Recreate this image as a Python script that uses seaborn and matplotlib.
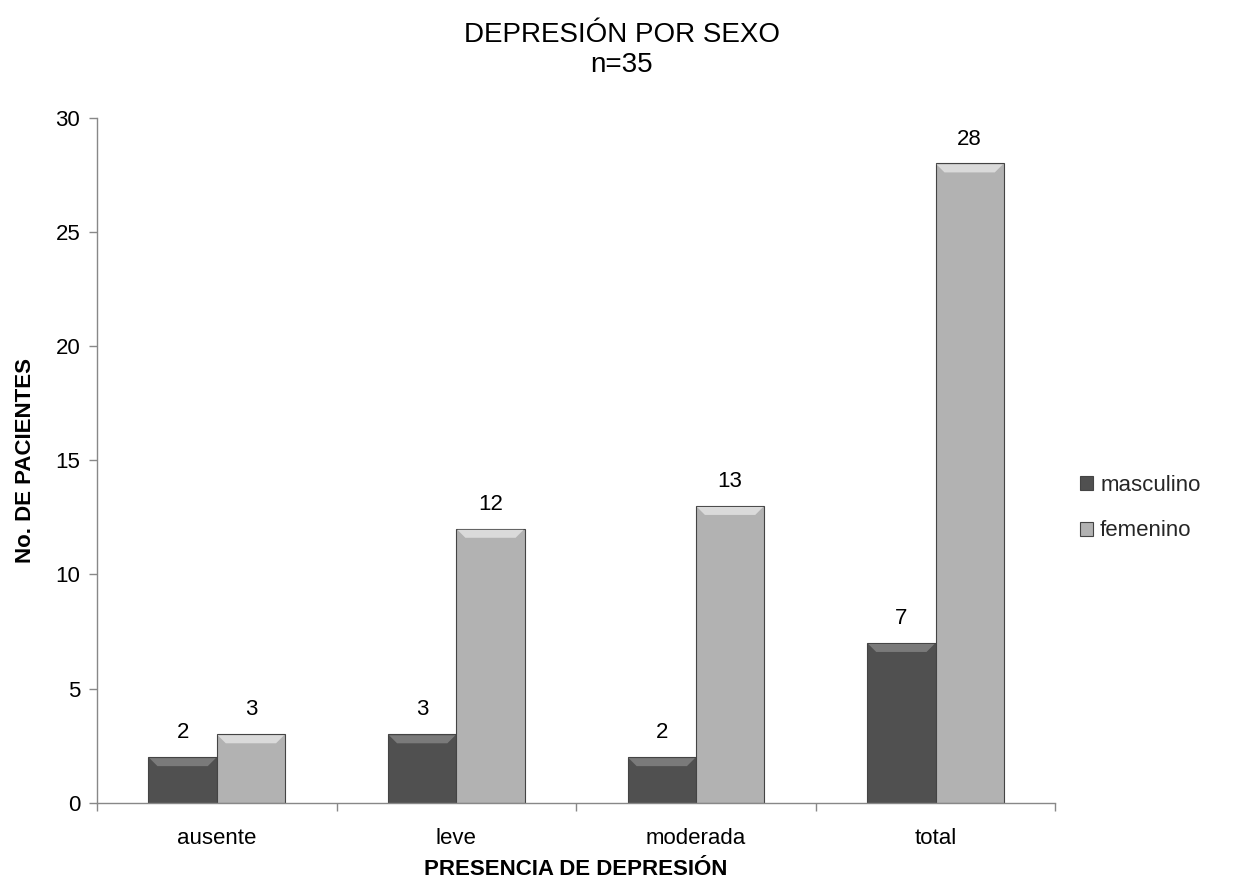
import pandas as pd
import matplotlib.pyplot as plt
import seaborn as sns
from matplotlib.patches import Polygon

categorias = ['ausente', 'leve', 'moderada', 'total']
masculino = [2, 3, 2, 7]
femenino = [3, 12, 13, 28]
series = ['masculino', 'femenino']
colores = ['#505050', '#b2b2b2']
bisel = ['#7a7a7a', '#dadada']

df = pd.DataFrame({
    'categoria': categorias * 2,
    'sexo': ['masculino'] * 4 + ['femenino'] * 4,
    'pacientes': masculino + femenino,
})

sns.set_style('white')
plt.rcParams['font.family'] = ['Liberation Sans', 'DejaVu Sans']

fig = plt.figure(figsize=(12.43, 8.92), dpi=100)
ax = fig.add_axes([0.078, 0.1, 0.771, 0.768])

sns.barplot(data=df, x='categoria', y='pacientes', hue='sexo', hue_order=series,
            palette=colores, width=0.57, edgecolor='#444444', linewidth=0.8,
            saturation=1, ax=ax)

ax.set_ylim(0, 30)
ax.set_xlim(-0.5, 3.5)

# bisel superior de cada barra (efecto tipo Excel)
fig.canvas.draw()
to_px = ax.transData
to_data = ax.transData.inverted()
for cont, bc in zip(ax.containers, bisel):
    for p in cont.patches:
        x0, y0 = to_px.transform((p.get_x(), p.get_y()))
        x1, y1 = to_px.transform((p.get_x() + p.get_width(), p.get_y() + p.get_height()))
        d = min(9, (y1 - y0) / 2)
        pts = [(x0 + 1, y1 - 1), (x1 - 1, y1 - 1), (x1 - d, y1 - d), (x0 + d, y1 - d)]
        ax.add_patch(Polygon(to_data.transform(pts), closed=True, facecolor=bc,
                             edgecolor='none', zorder=3))

for cont in ax.containers:
    ax.bar_label(cont, padding=10, fontsize=16, color='black')

ax.set_yticks(range(0, 31, 5))
ax.tick_params(axis='y', labelsize=16, labelcolor='black', length=6, width=1,
               color='#888888', direction='out', left=True, pad=6)
ax.set_xticks(range(4))
ax.set_xticklabels(categorias)
ax.set_xticks([-0.5, 0.5, 1.5, 2.5, 3.5], minor=True)
ax.tick_params(axis='x', which='major', labelsize=16, labelcolor='black', length=0, pad=18)
ax.tick_params(axis='x', which='minor', length=6, width=1, color='#888888',
               direction='out', bottom=True)

for s in ['top', 'right']:
    ax.spines[s].set_visible(False)
for s in ['left', 'bottom']:
    ax.spines[s].set_color('#888888')
    ax.spines[s].set_linewidth(1)

ax.set_xlabel('PRESENCIA DE DEPRESIÓN', fontsize=16, fontweight='bold',
              color='black', labelpad=7)
ax.set_ylabel('No. DE PACIENTES', fontsize=16, fontweight='bold',
              color='black', labelpad=14)

fig.suptitle('DEPRESIÓN POR SEXO\nn=35', fontsize=20, y=0.975, linespacing=1.2,
             color='black')

leg = ax.legend(loc='center left', bbox_to_anchor=(1.005, 0.43), frameon=False,
                fontsize=16, handlelength=0.6, handleheight=0.6, handletextpad=0.3,
                labelspacing=1.1)

fig.savefig('out.png', dpi=100)
